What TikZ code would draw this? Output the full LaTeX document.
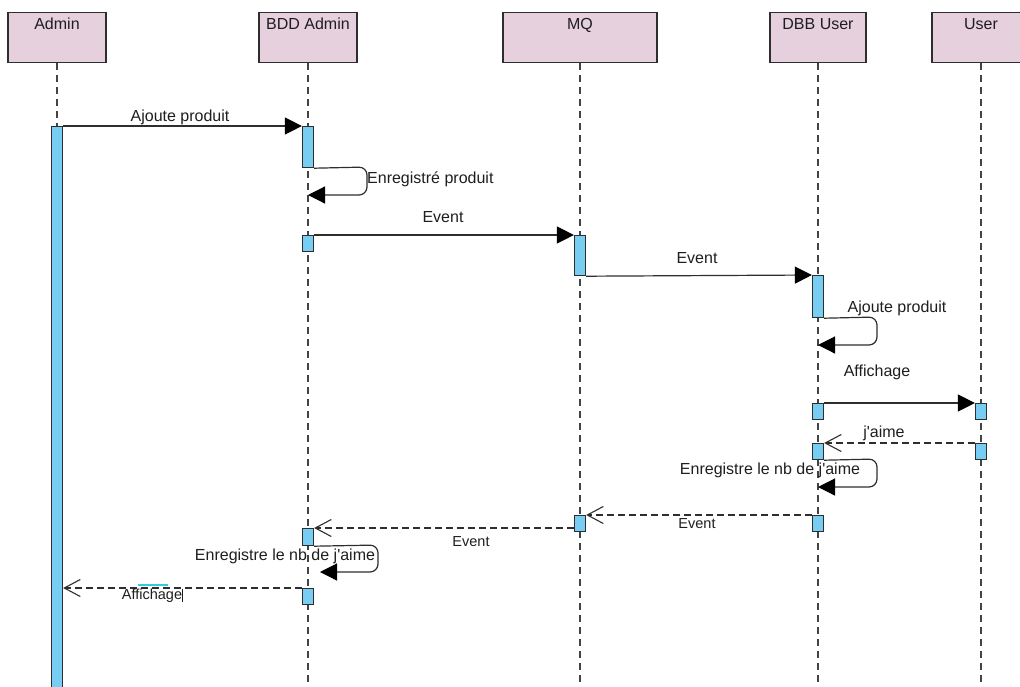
\documentclass[tikz,border=0pt]{standalone}
\usepackage{fontspec}
\setmainfont{Liberation Sans}[Ligatures=TeXOff]
\usetikzlibrary{arrows.meta}
\definecolor{headfill}{HTML}{E6D0DE}
\definecolor{barfill}{HTML}{78CDF2}
\definecolor{ink}{HTML}{2E2E2E}
\definecolor{txt}{HTML}{1E1E1E}
\definecolor{selcyan}{HTML}{33CCDD}
\tikzset{
  head/.style={draw=ink, fill=headfill, line width=1.3pt, minimum width=98pt, minimum height=50pt, inner sep=0pt, anchor=north},
  lifeline/.style={draw=ink!90, line width=1.2pt, dash pattern=on 7pt off 5pt},
  actbar/.style={draw=ink, fill=barfill, line width=1.2pt, minimum width=11pt, inner sep=0pt, anchor=north},
  call/.style={draw=ink, line width=1.2pt, -{Triangle[length=17pt,width=17pt,fill=black,color=black]}},
  reply/.style={draw=ink, line width=1.1pt, dash pattern=on 7pt off 4pt, -{Straight Barb[length=16pt,width=17pt,line width=1.1pt]}},
  selfcall/.style={call, rounded corners=8pt},
  lbl/.style={font=\fontsize{16}{19}\selectfont, text=txt, inner sep=0pt, anchor=base},
  lbls/.style={lbl, font=\fontsize{14.5}{17}\selectfont},
}
\begin{document}
\begin{tikzpicture}[x=1pt,y=-1pt]
\useasboundingbox (0,0) rectangle (1020,686);
\begin{scope}
\clip (0,0) rectangle (1020,686);

% participants
\node[head] (hAdmin) at (57,12) {};
\node[head] (hBdd)   at (308,12) {};
\node[head, minimum width=154pt] (hMq) at (580,12) {};
\node[head, minimum width=96pt]  (hDbb) at (818,12) {};
\node[head] (hUser)  at (981,12) {};
\node[lbl] at (57,29)  {Admin};
\node[lbl] at (308,29) {BDD Admin};
\node[lbl] at (580,29) {MQ};
\node[lbl] at (818,29) {DBB User};
\node[lbl] at (981,29) {User};

% lifelines
\coordinate (eAdmin) at (57,700);
\coordinate (eBdd)   at (308,700);
\coordinate (eMq)    at (580,700);
\coordinate (eDbb)   at (818,700);
\coordinate (eUser)  at (981,700);
\draw[lifeline] (hAdmin.south) -- (eAdmin);
\draw[lifeline] (hBdd.south) -- (eBdd);
\draw[lifeline] (hMq.south) -- (eMq);
\draw[lifeline] (hDbb.south) -- (eDbb);
\draw[lifeline] (hUser.south) -- (eUser);

% activation bars
\node[actbar, minimum height=580pt] (aAdmin) at (57,126) {};
\node[actbar, minimum height=41pt] (b1) at (308,126) {};
\node[actbar, minimum height=16pt] (b2) at (308,235) {};
\node[actbar, minimum height=40pt] (m1) at (580,235) {};
\node[actbar, minimum height=42pt] (d1) at (818,275) {};
\node[actbar, minimum height=16pt] (d2) at (818,403) {};
\node[actbar, minimum height=16pt] (u1) at (981,403) {};
\node[actbar, minimum height=16pt] (d3) at (818,443) {};
\node[actbar, minimum height=16pt] (u2) at (981,443) {};
\node[actbar, minimum height=16pt] (d4) at (818,515) {};
\node[actbar, minimum height=16pt] (m2) at (580,515) {};
\node[actbar, minimum height=17pt] (b3) at (308,528) {};
\node[actbar, minimum height=16pt] (b4) at (308,588) {};

% messages
\draw[call] (aAdmin.north east) -- (b1.north west);
\node[lbl] at (180,121) {Ajoute produit};

\draw[selfcall] (b1.south east) -- (367,167) -- (367,195) -- (308,195);
\node[lbl, anchor=base west] at (367,183) {Enregistré produit};

\draw[call] (b2.north east) -- (m1.north west);
\node[lbl] at (443,222) {Event};

\draw[call] (m1.south east) -- (d1.north west);
\node[lbl] at (697,263) {Event};

\draw[selfcall] (d1.south east) -- (877,317) -- (877,345) -- (818,345);
\node[lbl] at (897,312) {Ajoute produit};

\draw[call] (d2.north east) -- (u1.north west);
\node[lbl] at (877,376) {Affichage};

\draw[reply] (u2.north west) -- (d3.north east);
\node[lbl] at (884,437) {j'aime};

\draw[selfcall] (d3.south east) -- (877,459) -- (877,487) -- (818,487);
\node[lbl] at (770,474) {Enregistre le nb de j'aime};

\draw[reply] (d4.north west) -- (m2.north east);
\node[lbls] at (697,528) {Event};

\draw[reply] (m2.west |- b3.north) -- (b3.north east);
\node[lbls] at (471,546) {Event};

\draw[selfcall] (b3.south east) -- (378,545) -- (378,572) -- (320,572);
\node[lbl] at (285,560) {Enregistre le nb de j'aime};

\draw[reply] (b4.north west) -- (aAdmin.east |- b4.north);
\node[lbls] at (152,599) {Affichage};
\draw[selcyan, line width=1.6pt] (138,585) -- (168,585);
\draw[txt, line width=0.8pt] (182,589) -- (182,602);
\end{scope}
\end{tikzpicture}
\end{document}
